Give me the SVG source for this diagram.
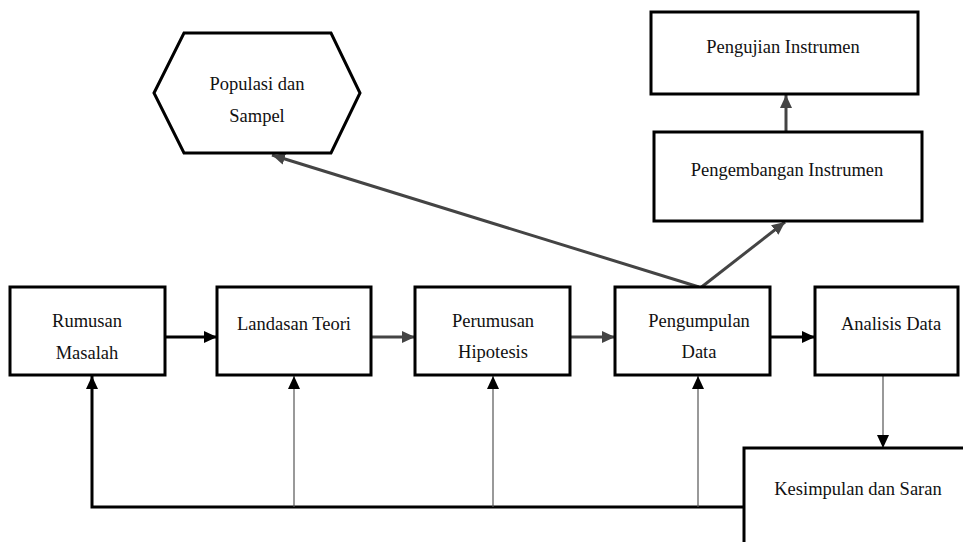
<svg xmlns="http://www.w3.org/2000/svg" width="963" height="542" viewBox="0 0 963 542">
<defs>
<style>
.box{fill:#fff;stroke:#000;stroke-width:3}
.t{font-family:"Liberation Serif","Times New Roman",serif;font-size:18.5px;fill:#111;text-anchor:middle}
.thick{stroke:#000;stroke-width:3;fill:none}
.gray{stroke:#444;stroke-width:3;fill:none}
.thin{stroke:#555;stroke-width:1.2;fill:none}
</style>
<marker id="ab" markerUnits="userSpaceOnUse" markerWidth="14" markerHeight="12" refX="13" refY="6" orient="auto"><path d="M0,0 L13,6 L0,12 z" fill="#000"/></marker>
<marker id="ag" markerUnits="userSpaceOnUse" markerWidth="14" markerHeight="12" refX="13" refY="6" orient="auto"><path d="M0,0 L13,6 L0,12 z" fill="#444"/></marker>
</defs>
<rect width="963" height="542" fill="#fff"/>
<g id="connectors">
<line class="thick" x1="165" y1="337" x2="217" y2="337" marker-end="url(#ab)"/>
<line class="gray" x1="371" y1="337" x2="415" y2="337" marker-end="url(#ag)"/>
<line class="gray" x1="570" y1="337" x2="615" y2="337" marker-end="url(#ag)"/>
<line class="thick" x1="770" y1="337" x2="815" y2="337" marker-end="url(#ab)"/>
<line class="gray" x1="699" y1="287" x2="272" y2="155" marker-end="url(#ag)"/>
<line class="gray" x1="699" y1="289" x2="785" y2="222" marker-end="url(#ag)"/>
<line class="gray" x1="786" y1="132" x2="786" y2="95" marker-end="url(#ag)"/>
<line class="thin" x1="883" y1="375" x2="883" y2="448" marker-end="url(#ab)"/>
<polyline class="thick" points="744,507 92,507 92,376" marker-end="url(#ab)"/>
<line class="thin" x1="294" y1="507" x2="294" y2="376" marker-end="url(#ab)"/>
<line class="thin" x1="493" y1="507" x2="493" y2="376" marker-end="url(#ab)"/>
<line class="thin" x1="698" y1="507" x2="698" y2="376" marker-end="url(#ab)"/>
</g>
<g id="rumusan"><rect class="box" x="10" y="287" width="155" height="88"/><text class="t" x="87" y="327">Rumusan</text><text class="t" x="87" y="359">Masalah</text></g>
<g id="landasan"><rect class="box" x="217" y="287" width="154" height="88"/><text class="t" x="294" y="330">Landasan Teori</text></g>
<g id="perumusan"><rect class="box" x="415" y="287" width="155" height="88"/><text class="t" x="493" y="327">Perumusan</text><text class="t" x="493" y="358">Hipotesis</text></g>
<g id="pengumpulan"><rect class="box" x="615" y="287" width="155" height="88"/><text class="t" x="699" y="327">Pengumpulan</text><text class="t" x="699" y="358">Data</text></g>
<g id="analisis"><rect class="box" x="815" y="287" width="143" height="88"/><text class="t" x="891" y="330">Analisis Data</text></g>
<g id="kesimpulan"><rect class="box" x="744" y="448" width="240" height="120"/><text class="t" x="858" y="495">Kesimpulan dan Saran</text></g>
<g id="populasi"><polygon class="box" points="154,93 184,33 331,33 360,93 331,153 184,153"/><text class="t" x="257" y="90">Populasi dan</text><text class="t" x="257" y="122">Sampel</text></g>
<g id="pengembangan"><rect class="box" x="654" y="132" width="268" height="89"/><text class="t" x="787" y="176">Pengembangan Instrumen</text></g>
<g id="pengujian"><rect class="box" x="651" y="12" width="267" height="82"/><text class="t" x="783" y="53">Pengujian Instrumen</text></g>
</svg>
